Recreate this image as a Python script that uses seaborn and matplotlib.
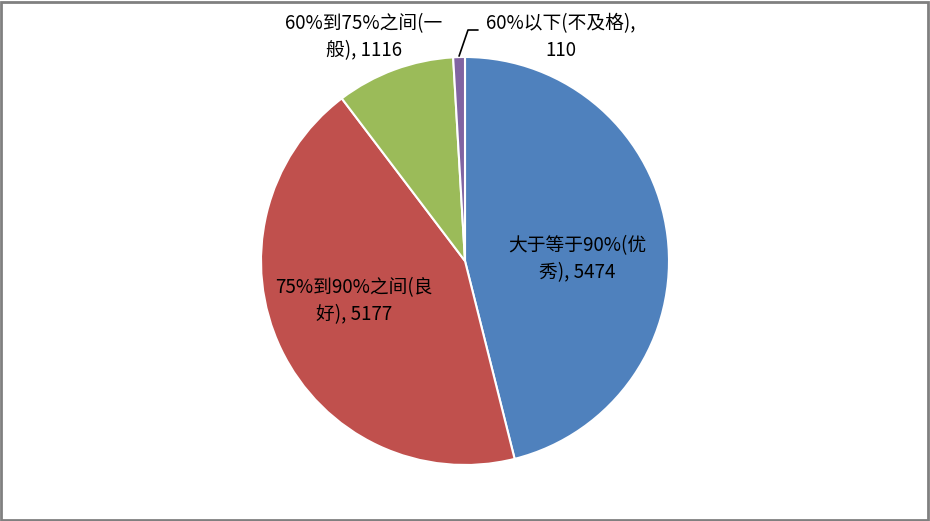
import numpy as np
import matplotlib
matplotlib.use("Agg")
import matplotlib.pyplot as plt
import seaborn as sns
from matplotlib.patches import Rectangle

categories = ["大于等于90%(优秀)", "75%到90%之间(良好)", "60%到75%之间(一般)", "60%以下(不及格)"]
values = [5474, 5177, 1116, 110]
label_texts = ["大于等于90%(优\n秀), 5474", "75%到90%之间(良\n好), 5177",
               "60%到75%之间(一\n般), 1116", "60%以下(不及格),\n110"]
colors = ["#4F81BD", "#C0504D", "#9BBB59", "#8064A2"]

sns.set_theme(style="white")
plt.rcParams['font.family'] = ['Noto Sans CJK SC', 'DejaVu Sans']

W, H = 930, 521
fig = plt.figure(figsize=(W / 100, H / 100), dpi=100)
ax = fig.add_axes([0, 0, 1, 1])

cx, cy, R = 465, 260, 204
wedges, _ = ax.pie(values, colors=colors, startangle=90, counterclock=False,
                   center=(cx, cy), radius=R, frame=True,
                   wedgeprops=dict(edgecolor='white', linewidth=1.5))
ax.set_xlim(0, W)
ax.set_ylim(0, H)
ax.set_aspect('equal')
ax.axis('off')

fs = 13.5
ls = 1.4
# inside labels
ax.text(577, 262, label_texts[0], ha='center', va='center', fontsize=fs, color='black', linespacing=ls)
ax.text(354, 220, label_texts[1], ha='center', va='center', fontsize=fs, color='black', linespacing=ls)
# outside labels
ax.text(364, 484, label_texts[2], ha='center', va='center', fontsize=fs, color='black', linespacing=ls)
ax.text(561, 484, label_texts[3], ha='center', va='center', fontsize=fs, color='black', linespacing=ls)

# leader line for small slice
w = wedges[3]
mid = np.deg2rad((w.theta1 + w.theta2) / 2)
x0 = cx + R * np.cos(mid)
y0 = cy + R * np.sin(mid)
ax.plot([x0, 468, 478], [y0 + 1, 491, 491], color='black', lw=1.2)

fig.add_artist(Rectangle((0.001, 0.002), 0.997, 0.995, transform=fig.transFigure,
                         fill=False, edgecolor='#808080', linewidth=2))
fig.savefig("out.png", dpi=100)
